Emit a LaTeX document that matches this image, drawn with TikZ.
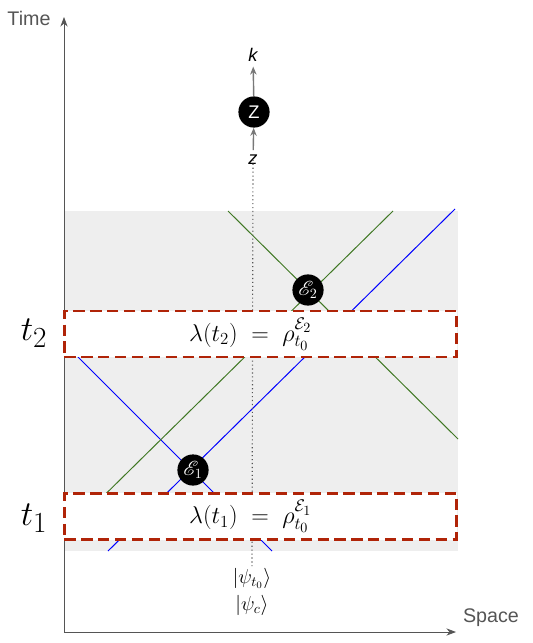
\documentclass[tikz,border=0pt]{standalone}
\usepackage{amsmath}
\usepackage{mathrsfs}
\usepackage{fontspec}
\newfontfamily\labelfont{Liberation Sans}
\usetikzlibrary{arrows.meta,positioning}

\definecolor{axisgray}{RGB}{85,85,85}
\definecolor{arrowgray}{RGB}{120,120,120}
\definecolor{bggray}{RGB}{238,238,238}
\definecolor{boxred}{RGB}{176,36,8}
\definecolor{worldgreen}{RGB}{64,120,36}

\begin{document}
\begin{tikzpicture}[
  x=0.025cm, y=-0.025cm,
  every node/.style={align=center},
  axis/.style={draw=axisgray, line width=0.6pt, -{Stealth[length=2.4mm, width=1.8mm]}},
  axislabel/.style={text=axisgray, font=\labelfont\fontsize{14}{16}\selectfont},
  sysarrow/.style={draw=arrowgray, line width=1pt, -{Stealth[length=2mm, width=1.6mm]}},
  syslabel/.style={font=\labelfont\itshape\fontsize{13}{15}\selectfont},
  event/.style={circle, fill=black, text=white, minimum size=0.78cm, inner sep=0pt, font=\fontsize{14.4}{16}\selectfont},
  slice/.style={rectangle, draw=boxred, fill=white, line width=2pt, dash pattern=on 8pt off 4pt, minimum width=9.8cm, minimum height=1.15cm, font=\fontsize{17.28}{20}\selectfont},
  timelabel/.style={font=\fontsize{24.88}{28}\selectfont},
  ketlabel/.style={font=\fontsize{14.4}{17}\selectfont, inner sep=1pt},
  worldline/.style={line width=0.7pt}
]
\useasboundingbox (0,0) rectangle (532,643);

% --- BACKGROUND REGION ---
\fill[bggray] (64,211) rectangle (458,551);

% --- AXES ---
\coordinate (origin) at (64,632);
\coordinate (ytop) at (64,17);
\coordinate (xend) at (456,632);
\draw[axis] (origin) -- (ytop);
\draw[axis] (origin) -- (xend);
\node[axislabel] (time) at (29,18) {Time};
\node[axislabel] (space) at (491,618) {Space};

% --- WORLD LINES ---
\draw[worldline, blue] (108,551) -- (455,209);
\draw[worldline, blue] (64,343) -- (272,551);
\draw[worldline, worldgreen] (64,535) -- (393,211);
\draw[worldline, worldgreen] (228,211) -- (458,439);

% --- MEASUREMENT AT THE TOP ---
\node[event, font=\labelfont\fontsize{13}{15}\selectfont] (zmeas) at (254,112) {Z};
\node[syslabel] (klabel) at (253,55) {k};
\node[syslabel] (zlabel) at (253,160) {z};
\draw[sysarrow] (zlabel) -- (zmeas);
\draw[sysarrow] (zmeas) -- (klabel);

% --- INITIAL STATES ---
\node[ketlabel] (psinit) at (252,578) {$|\psi_{t_0}\rangle$};
\node[ketlabel] (psic) at (252,605) {$|\psi_c\rangle$};
\draw[dotted, axisgray, line width=0.8pt] (zlabel.south) ++(0,-10) -- (psinit.north);

% --- TIME SLICES ---
\node[slice] (slicetwo) at (260.5,334) {\hspace*{-0.5cm}$\lambda(t_2) \;=\; \rho_{t_0}^{\mathcal{E}_2}$};
\node[slice] (sliceone) at (260.5,516.5) {\hspace*{-0.5cm}$\lambda(t_1) \;=\; \rho_{t_0}^{\mathcal{E}_1}$};
\node[timelabel] (ttwo) at (34,333) {$t_2$};
\node[timelabel] (tone) at (34,518) {$t_1$};

% --- EVENTS ---
\node[event] (eone) at (193,470) {$\mathscr{E}_1$};
\node[event] (etwo) at (308,290) {$\mathscr{E}_2$};

\end{tikzpicture}
\end{document}
